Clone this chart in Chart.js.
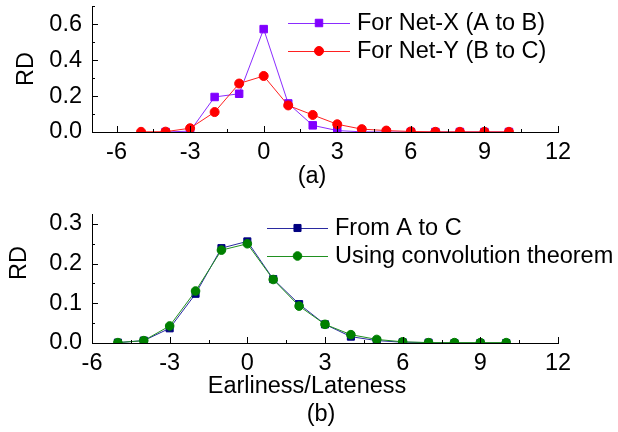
<!DOCTYPE html>
<html>
<head>
<meta charset="utf-8">
<script src="https://cdn.jsdelivr.net/npm/chart.js@4.4.0/dist/chart.umd.min.js"></script>
<style>
html, body { margin: 0; padding: 0; background: #fff; }
#wrap { position: relative; width: 618px; height: 432px; }
#wrap canvas { position: absolute; left: 0; }
</style>
</head>
<body>
<div id="wrap">
    <canvas id="chartA" width="618" height="200" style="top:0"></canvas>
    <canvas id="chartB" width="618" height="232" style="top:200px"></canvas>
</div>
<script>
// earliness/lateness values on the x axis
var lags = [-5, -4, -3, -2, -1, 0, 1, 2, 3, 4, 5, 6, 7, 8, 9, 10];

// (a)
var netX = [null, 0, 0.005, 0.195, 0.213, 0.573, 0.159, 0.037, 0.008, 0.001, 0, 0, 0, 0, 0, 0];
var netY = [0.001, 0.002, 0.021, 0.111, 0.27, 0.312, 0.148, 0.095, 0.043, 0.016, 0.008, 0.003, 0.001, 0.001, 0.001, 0.001];

// (b)
var fromAtoC = [0.001, 0.006, 0.037, 0.124, 0.239, 0.256, 0.161, 0.098, 0.047, 0.016, 0.006, 0.002, 0.001, 0, 0, 0];
var convolution = [0.001, 0.006, 0.043, 0.131, 0.234, 0.25, 0.16, 0.093, 0.047, 0.021, 0.009, 0.003, 0.001, 0.001, 0.001, 0.001];

var xTicks = [-6, -3, 0, 3, 6, 9, 12];
var yTicksA = [0, 0.2, 0.4, 0.6];
var yTicksB = [0, 0.1, 0.2, 0.3];

var labelsA = ['For Net-X (A to B)', 'For Net-Y (B to C)'];
var labelsB = ['From A to C', 'Using convolution theorem'];

var FONT = "'Liberation Sans', Arial, sans-serif";
var FSIZE = 23.5;

function points(ys) {
    return lags.map(function (x, i) { return {x: x, y: ys[i]}; });
}

// ticks pointing inward, with minor ticks half way
var innerTicks = {
    id: 'innerTicks',
    afterDraw: function (chart) {
        var ctx = chart.ctx, area = chart.chartArea;
        ctx.save();
        ctx.strokeStyle = '#000';
        ctx.lineWidth = 1;
        ['x', 'y'].forEach(function (id) {
            var s = chart.scales[id];
            var major = s.ticks.map(function (t) { return t.value; });
            var step = major[1] - major[0];
            var minor = [];
            if (major[0] - step / 2 >= s.min - 1e-9) minor.push(major[0] - step / 2);
            major.forEach(function (v) {
                if (v + step / 2 <= s.max + 1e-9) minor.push(v + step / 2);
            });
            var all = major.map(function (v) { return [v, 6]; }).concat(minor.map(function (v) { return [v, 3]; }));
            all.forEach(function (t) {
                var p = Math.round(s.getPixelForValue(t[0])) + 0.5;
                ctx.beginPath();
                if (id === 'x') {
                    ctx.moveTo(p, area.bottom);
                    ctx.lineTo(p, area.bottom - t[1]);
                } else {
                    ctx.moveTo(area.left, p);
                    ctx.lineTo(area.left + t[1], p);
                }
                ctx.stroke();
            });
        });
        ctx.restore();
    }
};

function makeLegend(x0, x1, tx, y, gap) {
    return {
        id: 'boxLegend',
        afterDraw: function (chart) {
            var ctx = chart.ctx;
            chart.data.datasets.forEach(function (ds, i) {
                var ly = y + i * gap;
                var mx = (x0 + x1) / 2;
                ctx.save();
                ctx.strokeStyle = ds.borderColor;
                ctx.lineWidth = 1;
                ctx.beginPath();
                ctx.moveTo(x0, ly + 0.5);
                ctx.lineTo(x1, ly + 0.5);
                ctx.stroke();
                ctx.fillStyle = ds.pointBackgroundColor;
                ctx.strokeStyle = ds.pointBorderColor;
                ctx.beginPath();
                if (ds.pointStyle === 'rect') {
                    var h = ds.pointRadius * Math.SQRT1_2;
                    ctx.rect(mx - h, ly - h, 2 * h, 2 * h);
                } else {
                    ctx.arc(mx, ly, ds.pointRadius, 0, Math.PI * 2);
                }
                ctx.fill();
                ctx.stroke();
                ctx.fillStyle = '#000';
                ctx.font = FSIZE + 'px ' + FONT;
                ctx.textBaseline = 'middle';
                ctx.textAlign = 'left';
                ctx.fillText(ds.label, tx, ly + 1);
                ctx.restore();
            });
        }
    };
}

function makeCaptions(items) {
    return {
        id: 'captions',
        afterDraw: function (chart) {
            var ctx = chart.ctx;
            items.forEach(function (c) {
                ctx.save();
                ctx.translate(c.x, c.y);
                ctx.rotate(c.rot || 0);
                ctx.fillStyle = '#000';
                ctx.font = FSIZE + 'px ' + FONT;
                ctx.textAlign = 'center';
                ctx.textBaseline = 'alphabetic';
                ctx.fillText(c.text, 0, 0);
                ctx.restore();
            });
        }
    };
}

function xScale(min, height) {
    return {
        type: 'linear',
        min: min,
        max: 12,
        grid: {display: false, drawTicks: false},
        border: {display: true, color: '#000', width: 1},
        ticks: {color: '#000', font: {family: FONT, size: FSIZE}, padding: 6, maxRotation: 0, autoSkip: false},
        afterBuildTicks: function (s) {
            s.ticks = xTicks.map(function (v) { return {value: v}; });
        },
        afterFit: function (s) {
            s.height = height;
            s.paddingLeft = 0;
            s.paddingRight = 0;
        }
    };
}

function yScale(max, tickValues) {
    return {
        type: 'linear',
        min: 0,
        max: max,
        grid: {display: false, drawTicks: false},
        border: {display: true, color: '#000', width: 1},
        ticks: {
            color: '#000',
            font: {family: FONT, size: FSIZE},
            padding: 10,
            callback: function (v) { return v.toFixed(1); }
        },
        afterBuildTicks: function (s) {
            s.ticks = tickValues.map(function (v) { return {value: v}; });
        },
        afterFit: function (s) {
            s.width = 92;
            s.paddingTop = 0;
            s.paddingBottom = 0;
        }
    };
}

function series(label, values, color, lineColor, style, radius, order) {
    return {
        label: label,
        data: points(values),
        borderColor: lineColor,
        borderWidth: 1,
        pointStyle: style,
        pointRadius: radius,
        pointBorderWidth: 1,
        pointBackgroundColor: color,
        pointBorderColor: color,
        order: order,
        tension: 0
    };
}

var common = {
    responsive: false,
    animation: false,
    events: [],
    plugins: {legend: {display: false}, tooltip: {enabled: false}}
};

new Chart(document.getElementById('chartA'), {
    type: 'line',
    data: {
        datasets: [
            series(labelsA[0], netX, '#8000ff', '#8a2cff', 'rect', 5.3, 1),
            series(labelsA[1], netY, '#ff0000', '#ff2020', 'circle', 4.5, 0)
        ]
    },
    options: Object.assign({}, common, {
        layout: {padding: {top: 1, right: 60, left: 0, bottom: 0}},
        scales: {x: xScale(-7, 68), y: yScale(0.7, yTicksA)}
    }),
    plugins: [innerTicks, makeLegend(288, 350, 357, 23, 28),
        makeCaptions([
            {text: 'RD', x: 33, y: 69, rot: -Math.PI / 2},
            {text: '(a)', x: 312, y: 183}
        ])]
});

new Chart(document.getElementById('chartB'), {
    type: 'line',
    data: {
        datasets: [
            series(labelsB[0], fromAtoC, '#000080', '#2a2aa0', 'rect', 5, 1),
            series(labelsB[1], convolution, '#008000', '#209020', 'circle', 4.3, 0)
        ]
    },
    options: Object.assign({}, common, {
        layout: {padding: {top: 14, right: 60, left: 0, bottom: 0}},
        scales: {x: xScale(-6, 89), y: yScale(0.325, yTicksB)}
    }),
    plugins: [innerTicks, makeLegend(267, 328, 335, 28, 28),
        makeCaptions([
            {text: 'RD', x: 26, y: 63, rot: -Math.PI / 2},
            {text: 'Earliness/Lateness', x: 307, y: 193},
            {text: '(b)', x: 321, y: 221}
        ])]
});
</script>
</body>
</html>
